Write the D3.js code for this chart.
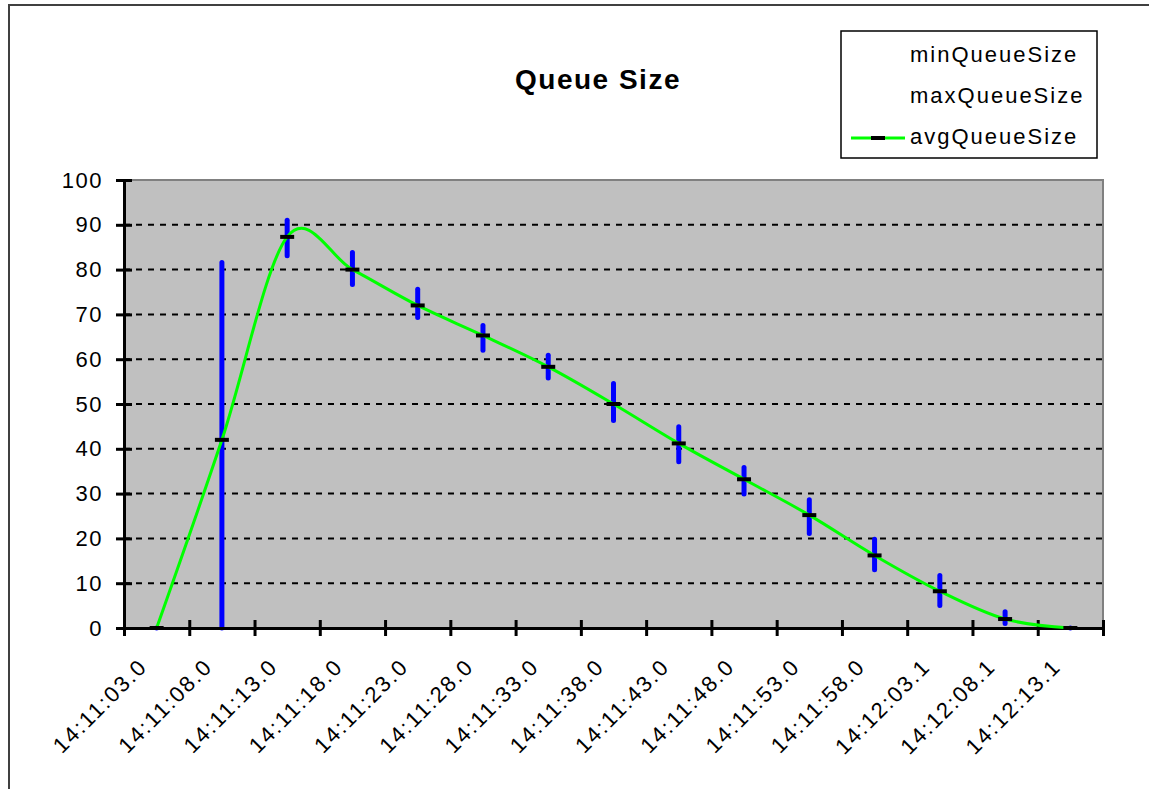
<!DOCTYPE html>
<html>
<head>
<meta charset="utf-8">
<script src="https://cdn.jsdelivr.net/npm/d3@7"></script>
<style>
  body { margin: 0; background: #fff; }
  svg { display: block; }
  text { font-family: "Liberation Sans", Arial, sans-serif; fill: #000; }
</style>
</head>
<body>
<svg id="chart" width="1149" height="789"></svg>
<script>
// Sample times (category axis)
const categories = [
  "14:11:03.0", "14:11:08.0", "14:11:13.0", "14:11:18.0", "14:11:23.0",
  "14:11:28.0", "14:11:33.0", "14:11:38.0", "14:11:43.0", "14:11:48.0",
  "14:11:53.0", "14:11:58.0", "14:12:03.1", "14:12:08.1", "14:12:13.1"
];
// Queue size statistics per sample
const minQueueSize = [0, 0, 83.1, 76.7, 69.3, 62.0, 55.8, 46.3, 37.1, 29.9, 21.1, 13.0, 5.0, 1.0, 0];
const maxQueueSize = [0, 81.6, 91.0, 83.8, 75.6, 67.5, 60.9, 54.6, 44.9, 35.8, 28.6, 19.8, 11.7, 3.6, 0];
const avgQueueSize = [0, 42, 87.3, 80, 72, 65.3, 58.3, 50, 41.2, 33.2, 25.2, 16.2, 8.2, 2, 0];
const yTicks = [0, 10, 20, 30, 40, 50, 60, 70, 80, 90, 100];
const legendLabels = ["minQueueSize", "maxQueueSize", "avgQueueSize"];

const svg = d3.select("#chart");
const W = 1149, H = 789;
const plot = { left: 124, right: 1103, top: 180, bottom: 628 };

svg.append("rect").attr("width", W).attr("height", H).attr("fill", "#fff");

// chart frame
svg.append("path")
  .attr("d", `M9,${H} V5 H${W}`)
  .attr("fill", "none").attr("stroke", "#404040").attr("stroke-width", 2);

const x = d3.scaleBand().domain(categories).range([plot.left, plot.right]).padding(0);
const cx = c => x(c) + x.bandwidth() / 2;
const xIdx = d3.scaleLinear().domain([0, categories.length]).range([plot.left, plot.right]);
const y = d3.scaleLinear().domain([0, 100]).range([plot.bottom, plot.top]);

// plot area
svg.append("rect")
  .attr("x", plot.left).attr("y", plot.top)
  .attr("width", plot.right - plot.left).attr("height", plot.bottom - plot.top)
  .attr("fill", "#c0c0c0").attr("stroke", "#808080").attr("stroke-width", 2);

// dashed gridlines
svg.append("g").selectAll("line")
  .data(yTicks.filter(v => v > 0 && v < 100))
  .join("line")
  .attr("x1", plot.left).attr("x2", plot.right)
  .attr("y1", d => y(d)).attr("y2", d => y(d))
  .attr("stroke", "#000").attr("stroke-width", 2)
  .attr("stroke-dasharray", "6,6");

// min-max range bars
svg.append("g").selectAll("line")
  .data(categories)
  .join("line")
  .attr("x1", d => cx(d)).attr("x2", d => cx(d))
  .attr("y1", (d, i) => y(minQueueSize[i])).attr("y2", (d, i) => y(maxQueueSize[i]))
  .attr("stroke", "#0000ff").attr("stroke-width", 5).attr("stroke-linecap", "round");

// y axis
const yAxis = svg.append("g")
  .attr("transform", `translate(${plot.left},0)`)
  .call(d3.axisLeft(y).tickValues(yTicks).tickSize(8).tickSizeOuter(0).tickPadding(13));
yAxis.select(".domain").attr("stroke", "#000").attr("stroke-width", 3);
yAxis.selectAll(".tick line").attr("x1", 8).attr("stroke", "#000").attr("stroke-width", 3);
yAxis.selectAll(".tick text")
  .style("font-size", "22px").style("letter-spacing", "1.5px")
  .attr("font-family", null).attr("fill", "#000");

// x axis: ticks between categories
const xAxis = svg.append("g")
  .attr("transform", `translate(0,${plot.bottom})`)
  .call(d3.axisBottom(xIdx).tickValues(d3.range(categories.length + 1)).tickSize(8).tickSizeOuter(0).tickFormat(""));
xAxis.select(".domain").attr("stroke", "#000").attr("stroke-width", 3);
xAxis.selectAll(".tick line").attr("y1", -8).attr("stroke", "#000").attr("stroke-width", 3);

// rotated category labels
svg.append("g").selectAll("text")
  .data(categories)
  .join("text")
  .attr("transform", d => `translate(${cx(d) - 8},${plot.bottom + 40}) rotate(-45)`)
  .attr("text-anchor", "end")
  .style("font-size", "22px").style("letter-spacing", "2px")
  .text(d => d);

// average line (smoothed)
const line = d3.line()
  .x((d, i) => cx(categories[i]))
  .y(d => y(d))
  .curve(d3.curveCardinal.tension(0));
svg.append("path")
  .datum(avgQueueSize)
  .attr("d", line)
  .attr("fill", "none").attr("stroke", "#00ff00").attr("stroke-width", 3);

// average markers
svg.append("g").selectAll("line")
  .data(categories)
  .join("line")
  .attr("x1", d => cx(d) - 7).attr("x2", d => cx(d) + 7)
  .attr("y1", (d, i) => y(avgQueueSize[i])).attr("y2", (d, i) => y(avgQueueSize[i]))
  .attr("stroke", "#000").attr("stroke-width", 4);

// title
svg.append("text")
  .attr("x", 598).attr("y", 89)
  .attr("text-anchor", "middle")
  .style("font-size", "28px").style("font-weight", "bold").style("letter-spacing", "1.5px")
  .text("Queue Size");

// legend
const lg = svg.append("g");
lg.append("rect")
  .attr("x", 841).attr("y", 31).attr("width", 256).attr("height", 127)
  .attr("fill", "#fff").attr("stroke", "#000").attr("stroke-width", 1.5);
lg.selectAll("text")
  .data(legendLabels)
  .join("text")
  .attr("x", 910).attr("y", (d, i) => 62 + i * 41)
  .style("font-size", "22px").style("letter-spacing", "2px")
  .text(d => d);
lg.append("line")
  .attr("x1", 851).attr("x2", 905).attr("y1", 138).attr("y2", 138)
  .attr("stroke", "#00ff00").attr("stroke-width", 3);
lg.append("line")
  .attr("x1", 871).attr("x2", 885).attr("y1", 138).attr("y2", 138)
  .attr("stroke", "#000").attr("stroke-width", 4);
</script>
</body>
</html>
